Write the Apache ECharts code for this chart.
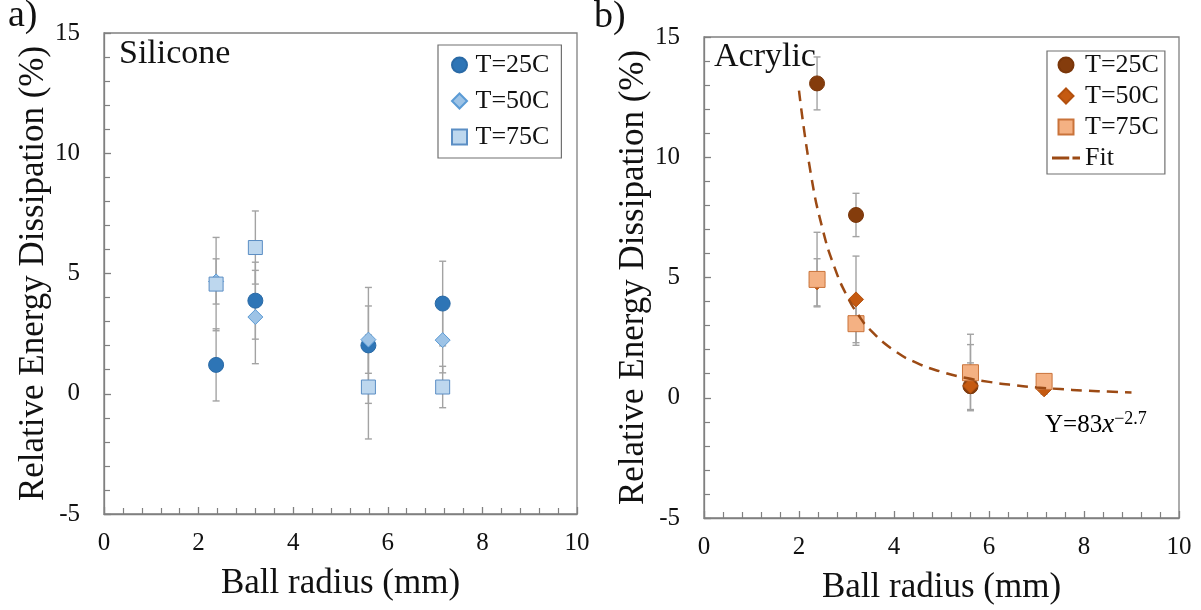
<!DOCTYPE html>
<html>
<head>
<meta charset="utf-8">
<script src="https://cdn.jsdelivr.net/npm/echarts@6/dist/echarts.min.js"></script>
<style>
html,body{margin:0;padding:0;background:#fff;}
#chart{width:1201px;height:610px;}
</style>
</head>
<body>
<div id="chart"></div>
<script>
// ---------- data ----------
const seriesNames = ['T=25C', 'T=50C', 'T=75C'];

// (a) Silicone
const siliconeRadius = [2.37, 3.2, 5.59, 7.16];
const siliconeT25 = [1.2, 3.87, 2.01, 3.75];
const siliconeT25Err = [1.5, 1.6, 2.41, 1.76];
const siliconeT50 = [4.67, 3.19, 2.25, 2.23];
const siliconeT50Err = [0.94, 1.94, 1.4, 1.36];
const siliconeT75 = [4.56, 6.08, 0.28, 0.28];
const siliconeT75Err = [1.94, 1.52, 2.16, 0.86];

// (b) Acrylic
const acrylicRadius = [2.38, 3.2, 5.61, 7.16];
const acrylicT25 = [13.07, 7.6, 0.48, null];
const acrylicT25ErrUp = [1.1, 0.9, 0.97, null];
const acrylicT25ErrDown = [1.1, 0.9, 0.97, null];
const acrylicT50 = [4.8, 4.09, 0.5, 0.35];
const acrylicT50ErrUp = [0.98, 1.8, 1.71, 0.2];
const acrylicT50ErrDown = [0.98, 1.8, 0.3, 0.2];
const acrylicT75 = [4.92, 3.08, 1.04, 0.68];
const acrylicT75ErrUp = [1.96, 0.9, 1.6, 0.25];
const acrylicT75ErrDown = [1.14, 0.9, 1.58, 0.25];

// fit curve (Y = 83 x^-2.7)
const fitX = [2, 2.25, 2.5, 2.75, 3, 3.25, 3.5, 4, 4.5, 5, 5.5, 6, 6.5, 7, 7.5, 8, 8.5, 9];
const fitY = [12.77, 9.3, 6.99, 5.41, 4.27, 3.44, 2.82, 1.97, 1.43, 1.08, 0.83, 0.66, 0.53, 0.43, 0.36, 0.3, 0.26, 0.22];

const xTicks = {min: 0, max: 10, interval: 2};
const yTicks = {min: -5, max: 15, interval: 5};

// ---------- helpers ----------
const FONT = "'Liberation Serif', 'Times New Roman', serif";
const AXIS_COLOR = '#808080';
const ERR_COLOR = '#a3a3a3';

function points(xs, ys) {
  const out = [];
  xs.forEach((x, i) => { if (ys[i] != null) out.push([x, ys[i]]); });
  return out;
}
function errData(xs, ys, up, down) {
  const out = [];
  xs.forEach((x, i) => { if (ys[i] != null) out.push([x, ys[i] - down[i], ys[i] + up[i]]); });
  return out;
}
function errRender(params, api) {
  const x = api.value(0);
  const lo = api.coord([x, api.value(1)]);
  const hi = api.coord([x, api.value(2)]);
  const c = 3.5;
  const style = {stroke: ERR_COLOR, lineWidth: 1.4};
  return {
    type: 'group',
    children: [
      {type: 'line', shape: {x1: lo[0], y1: lo[1], x2: hi[0], y2: hi[1]}, style},
      {type: 'line', shape: {x1: lo[0] - c, y1: lo[1], x2: lo[0] + c, y2: lo[1]}, style},
      {type: 'line', shape: {x1: hi[0] - c, y1: hi[1], x2: hi[0] + c, y2: hi[1]}, style}
    ]
  };
}
function errSeries(idx, data) {
  return {
    type: 'custom', xAxisIndex: idx, yAxisIndex: idx, renderItem: errRender,
    data, encode: {x: 0, y: [1, 2]}, z: 1, silent: true
  };
}
function xAxis(idx) {
  return {
    gridIndex: idx, type: 'value', min: xTicks.min, max: xTicks.max, interval: xTicks.interval,
    name: 'Ball radius (mm)', nameLocation: 'middle', nameGap: 52,
    nameTextStyle: {fontFamily: FONT, fontSize: 35, color: '#111'},
    axisLine: {show: true, onZero: false, lineStyle: {color: AXIS_COLOR, width: 1.3}},
    axisTick: {show: true, inside: true, length: 7, lineStyle: {color: AXIS_COLOR, width: 1.3}},
    minorTick: {show: true, splitNumber: 5, length: 6, lineStyle: {color: AXIS_COLOR, width: 1.2}},
    splitLine: {show: false},
    axisLabel: {fontFamily: FONT, fontSize: 25, color: '#111', margin: 17}
  };
}
function yAxis(idx) {
  return {
    gridIndex: idx, type: 'value', min: yTicks.min, max: yTicks.max, interval: yTicks.interval,
    name: 'Relative Energy Dissipation (%)', nameLocation: 'middle', nameGap: 52,
    nameTextStyle: {fontFamily: FONT, fontSize: 35, color: '#111'},
    axisLine: {show: true, onZero: false, lineStyle: {color: AXIS_COLOR, width: 1.3}},
    axisTick: {show: true, inside: true, length: 7, lineStyle: {color: AXIS_COLOR, width: 1.3}},
    minorTick: {show: true, splitNumber: 5, length: 6, lineStyle: {color: AXIS_COLOR, width: 1.2}},
    splitLine: {show: false},
    axisLabel: {fontFamily: FONT, fontSize: 25, color: '#111', margin: 24}
  };
}

const silStyles = [
  {symbol: 'circle', size: 15, color: '#2e75b6', border: '#2a6aa6'},
  {symbol: 'diamond', size: 15, color: '#9dc3e6', border: '#5b9bd5'},
  {symbol: 'rect', size: 14, color: '#bdd7ee', border: '#5b8ec4'}
];
const acrStyles = [
  {symbol: 'circle', size: 15, color: '#843c0c', border: '#7a360a'},
  {symbol: 'diamond', size: 15, color: '#c55a11', border: '#b3500e'},
  {symbol: 'rect', size: 16, color: '#f4b183', border: '#c9733a'}
];

function scatter(idx, name, data, st) {
  return {
    type: 'scatter', name, xAxisIndex: idx, yAxisIndex: idx, data,
    symbol: st.symbol, symbolSize: st.size, z: 2,
    itemStyle: {color: st.color, borderColor: st.border, borderWidth: 1, opacity: 1}
  };
}

const silValues = [siliconeT25, siliconeT50, siliconeT75];
const silErrs = [siliconeT25Err, siliconeT50Err, siliconeT75Err];
const acrValues = [acrylicT25, acrylicT50, acrylicT75];
const acrUp = [acrylicT25ErrUp, acrylicT50ErrUp, acrylicT75ErrUp];
const acrDown = [acrylicT25ErrDown, acrylicT50ErrDown, acrylicT75ErrDown];

const series = [];
silValues.forEach((v, i) => series.push(errSeries(0, errData(siliconeRadius, v, silErrs[i], silErrs[i]))));
acrValues.forEach((v, i) => series.push(errSeries(1, errData(acrylicRadius, v, acrUp[i], acrDown[i]))));
silValues.forEach((v, i) => series.push(scatter(0, seriesNames[i], points(siliconeRadius, v), silStyles[i])));
acrValues.forEach((v, i) => series.push(scatter(1, 'b:' + seriesNames[i], points(acrylicRadius, v), acrStyles[i])));
series.push({
  type: 'line', name: 'b:Fit', xAxisIndex: 1, yAxisIndex: 1,
  data: points(fitX, fitY), smooth: true, showSymbol: false, symbol: 'none', z: 3,
  lineStyle: {color: '#9c4a14', width: 2.5, type: [11, 7]},
  itemStyle: {color: '#9c4a14'}
});

const legendText = {fontFamily: FONT, fontSize: 26, color: '#111', lineHeight: 26};
const fitIcon = 'path://M0,0H16V2.6H0Z M19,0H26V2.6H19Z';
const legendIcons = ['circle', 'path://M7,0L14,7L7,14L0,7Z', 'path://M0,0H14V14H0Z'];

const option = {
  animation: false,
  backgroundColor: '#fff',
  title: [
    {text: 'a)', left: 8, top: -3, padding: 0, textStyle: {fontFamily: FONT, fontSize: 38, fontWeight: 'normal', color: '#111'}},
    {text: 'b)', left: 594, top: -2, padding: 0, textStyle: {fontFamily: FONT, fontSize: 38, fontWeight: 'normal', color: '#111'}},
    {text: 'Silicone', left: 119, top: 37, padding: 0, textStyle: {fontFamily: FONT, fontSize: 34, fontWeight: 'normal', color: '#111'}},
    {text: 'Acrylic', left: 714, top: 40, padding: 0, textStyle: {fontFamily: FONT, fontSize: 34, fontWeight: 'normal', color: '#111'}}
  ],
  grid: [
    {left: 104, top: 33, width: 473, height: 481, show: true, borderColor: AXIS_COLOR, borderWidth: 1.3, backgroundColor: 'transparent'},
    {left: 704, top: 37, width: 475, height: 481, show: true, borderColor: AXIS_COLOR, borderWidth: 1.3, backgroundColor: 'transparent'}
  ],
  xAxis: [xAxis(0), xAxis(1)],
  yAxis: [yAxis(0), yAxis(1)],
  legend: [
    {
      data: seriesNames.map((n, i) => ({name: n, icon: legendIcons[i]})),
      orient: 'vertical', left: 438, top: 45,
      itemWidth: 22, itemHeight: 15, itemGap: 10, padding: [7, 12, 8, 13],
      symbolKeepAspect: true,
      borderColor: '#707070', borderWidth: 1.2, selectedMode: false,
      textStyle: legendText
    },
    {
      data: seriesNames.map((n, i) => ({name: 'b:' + n, icon: legendIcons[i]})).concat([{name: 'b:Fit', icon: fitIcon}]),
      orient: 'vertical', left: 1047, top: 51,
      itemWidth: 28, itemHeight: 15, itemGap: 5, padding: [1, 6, 3, 5],
      symbolKeepAspect: true,
      borderColor: '#707070', borderWidth: 1.2, selectedMode: false,
      formatter: n => n.replace('b:', ''),
      textStyle: legendText
    }
  ],
  graphic: [
    {
      type: 'text', left: 1045, top: 410, z: 10,
      style: {
        text: '{n|Y=83}{i|x}{s|\u22122.7}',
        rich: {
          n: {fontFamily: FONT, fontSize: 25, color: '#111', lineHeight: 30},
          i: {fontFamily: FONT, fontSize: 27, fontStyle: 'italic', color: '#111', lineHeight: 30},
          s: {fontFamily: FONT, fontSize: 18, color: '#111', lineHeight: 20, verticalAlign: 'top'}
        }
      }
    }
  ],
  series
};

const chart = echarts.init(document.getElementById('chart'), null, {renderer: 'canvas'});
chart.setOption(option);
</script>
</body>
</html>
